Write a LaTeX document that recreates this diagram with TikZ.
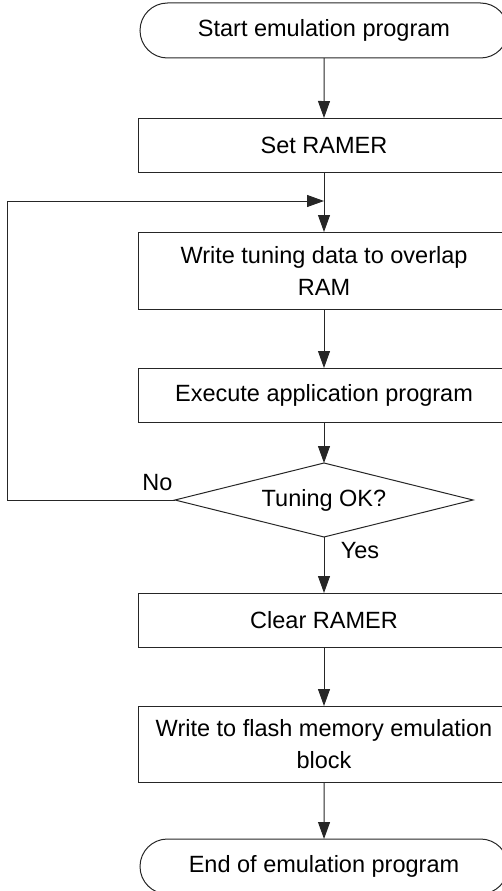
\documentclass[tikz,border=0pt]{standalone}
\usepackage{fontspec}
\setmainfont{Liberation Sans}
\usetikzlibrary{arrows.meta,shapes.geometric,shapes.misc}
\begin{document}
\begin{tikzpicture}[x=1pt,y=-1pt,
  line width=1pt,
  every node/.style={font=\fontsize{23.5}{32}\selectfont, inner sep=0pt, outer sep=0pt},
  proc/.style={draw=black!85, rectangle, minimum width=371pt, align=center},
  term/.style={draw=black!85, rounded rectangle, minimum width=368pt, minimum height=55pt},
  dec/.style={draw=black!85, diamond, aspect=4, minimum width=298pt, minimum height=74pt},
  arr/.style={draw=black!85, -{Triangle[length=17pt,width=12pt]}}
]
\useasboundingbox (0,0) rectangle (502,891);
\clip (0,0) rectangle (502,891);
\node[term] (start) at (324,30.5) {Start emulation program};
\node[proc, minimum height=54pt] (set) at (324,145) {Set RAMER};
\node[proc, minimum height=77pt] (write) at (324,270.5) {Write tuning data to overlap\\RAM};
\node[proc, minimum height=54pt] (exec) at (324,395) {Execute application program};
\node[dec] (dec) at (324,500) {Tuning OK?};
\node[proc, minimum height=54pt] (clear) at (324,620) {Clear RAMER};
\node[proc, minimum height=76pt] (flash) at (324,744) {Write to flash memory emulation\\block};
\node[term] (end) at (324,866.5) {End of emulation program};
\node (no) at (157.5,483) {No};
\node (yes) at (360,551) {Yes};
\coordinate (lb) at (7,500);
\coordinate (lt) at (7,201);
\coordinate (j) at (324,201);
\draw[arr] (start) -- (set);
\draw[arr] (set) -- (write);
\draw[arr] (dec.west) -- (lb) -- (lt) -- (j);
\draw[arr] (write) -- (exec);
\draw[arr] (exec) -- (dec);
\draw[arr] (dec) -- (clear);
\draw[arr] (clear) -- (flash);
\draw[arr] (flash) -- (end);
\end{tikzpicture}
\end{document}
